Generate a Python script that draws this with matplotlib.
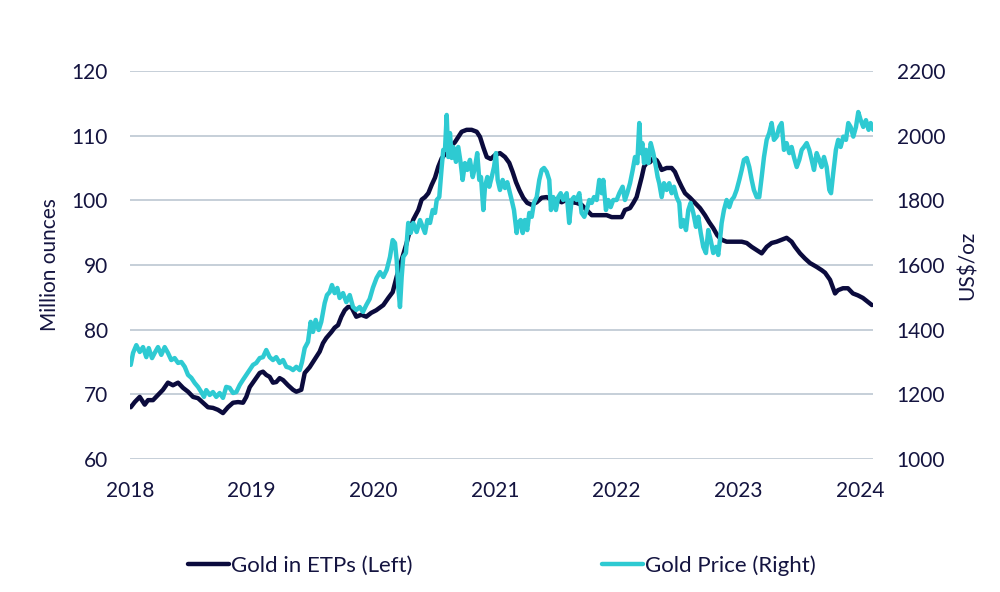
import numpy as np
import matplotlib
matplotlib.use("Agg")
import matplotlib.pyplot as plt

# ---------------- data ----------------
year_ticks = [2018, 2019, 2020, 2021, 2022, 2023, 2024]
left_ticks = [60, 70, 80, 90, 100, 110, 120]
right_ticks = [1000, 1200, 1400, 1600, 1800, 2000, 2200]

# Gold in ETPs (million ounces), x = years after 2018-01-01
etp_t = [0.006, 0.039, 0.080, 0.121, 0.148, 0.189, 0.230, 0.271, 0.312, 0.353, 0.395, 0.436, 0.477,
         0.518, 0.559, 0.600, 0.641, 0.682, 0.723, 0.764, 0.805, 0.847, 0.888, 0.929, 0.956, 0.984,
         1.025, 1.066, 1.093, 1.120, 1.148, 1.175, 1.202, 1.230, 1.258, 1.299, 1.340, 1.367, 1.408,
         1.436, 1.477, 1.504, 1.531, 1.559, 1.586, 1.613, 1.654, 1.682, 1.710, 1.737, 1.765, 1.792,
         1.819, 1.860, 1.901, 1.942, 1.983, 2.024, 2.082, 2.123, 2.159, 2.192, 2.233, 2.274, 2.301,
         2.328, 2.370, 2.397, 2.425, 2.452, 2.480, 2.507, 2.534, 2.562, 2.597, 2.630, 2.671, 2.698,
         2.726, 2.767, 2.808, 2.850, 2.877, 2.904, 2.932, 2.965, 3.000, 3.041, 3.082, 3.117, 3.145,
         3.173, 3.200, 3.232, 3.265, 3.302, 3.343, 3.384, 3.425, 3.466, 3.507, 3.548, 3.589, 3.630,
         3.671, 3.712, 3.754, 3.795, 3.836, 3.877, 3.918, 3.959, 4.000, 4.041, 4.068, 4.110, 4.137,
         4.164, 4.186, 4.206, 4.225, 4.247, 4.274, 4.301, 4.329, 4.350, 4.370, 4.411, 4.452, 4.479,
         4.506, 4.534, 4.562, 4.603, 4.644, 4.685, 4.726, 4.761, 4.794, 4.827, 4.863, 4.904, 4.945,
         4.986, 5.028, 5.069, 5.110, 5.151, 5.192, 5.233, 5.274, 5.315, 5.356, 5.397, 5.438, 5.466,
         5.507, 5.548, 5.589, 5.644, 5.685, 5.713, 5.754, 5.795, 5.819, 5.860, 5.901, 5.942, 5.983,
         6.024, 6.065, 6.098]
etp_val = [68.0, 68.8, 69.6, 68.4, 69.1, 69.1, 69.9, 70.7, 71.8, 71.4, 71.8, 71.0, 70.4,
           69.6, 69.4, 68.7, 68.0, 67.9, 67.6, 67.1, 68.0, 68.7, 68.8, 68.7, 69.6, 71.1,
           72.2, 73.3, 73.5, 73.0, 72.7, 71.8, 71.9, 72.5, 72.2, 71.4, 70.7, 70.4, 70.7,
           73.3, 74.2, 75.0, 75.8, 76.6, 77.9, 78.7, 79.6, 80.3, 80.7, 82.0, 83.0, 83.5,
           83.5, 82.0, 82.3, 82.0, 82.6, 83.0, 83.8, 84.9, 85.8, 88.2, 90.8, 93.4, 95.4,
           97.0, 98.5, 100.1, 100.5, 101.1, 102.4, 103.5, 105.2, 106.5, 107.3, 108.2, 109.0, 109.8,
           110.6, 110.9, 110.9, 110.6, 109.8, 108.2, 106.7, 106.4, 107.0, 107.3, 106.7, 105.8, 104.4,
           102.8, 101.6, 100.4, 99.6, 99.3, 99.7, 100.4, 100.5, 100.1, 100.1, 99.7, 100.1, 99.7,
           99.6, 99.3, 98.5, 97.7, 97.7, 97.7, 97.7, 97.4, 97.4, 97.4, 98.5, 98.8, 99.6,
           100.5, 102.1, 103.6, 105.2, 105.8, 105.9, 106.5, 106.2, 105.5, 104.7, 105.0, 105.0, 104.4,
           103.2, 102.1, 101.1, 100.4, 99.6, 98.8, 97.7, 96.6, 95.7, 94.6, 93.9, 93.6, 93.6,
           93.6, 93.6, 93.4, 92.8, 92.3, 91.8, 92.8, 93.4, 93.6, 93.9, 94.2, 93.6, 92.8,
           91.8, 91.0, 90.3, 89.7, 89.2, 88.8, 87.7, 85.6, 86.1, 86.4, 86.4, 85.6, 85.3,
           84.9, 84.3, 83.8]

# Gold price (US$/oz), x = years after 2018-01-01
price_t = [0.006, 0.025, 0.052, 0.080, 0.107, 0.134, 0.154, 0.181, 0.203, 0.230, 0.257, 0.285, 0.312,
           0.339, 0.367, 0.395, 0.422, 0.450, 0.477, 0.504, 0.532, 0.559, 0.586, 0.608, 0.627, 0.655,
           0.682, 0.709, 0.737, 0.764, 0.791, 0.819, 0.847, 0.874, 0.902, 0.929, 0.956, 0.984, 1.011,
           1.038, 1.066, 1.093, 1.120, 1.148, 1.175, 1.202, 1.230, 1.258, 1.285, 1.313, 1.340, 1.367,
           1.395, 1.414, 1.436, 1.463, 1.485, 1.504, 1.526, 1.551, 1.572, 1.600, 1.619, 1.641, 1.660,
           1.682, 1.704, 1.723, 1.751, 1.778, 1.806, 1.833, 1.860, 1.888, 1.915, 1.942, 1.970, 1.997,
           2.027, 2.055, 2.082, 2.110, 2.137, 2.159, 2.178, 2.192, 2.205, 2.219, 2.233, 2.246, 2.268,
           2.287, 2.307, 2.328, 2.356, 2.384, 2.406, 2.425, 2.444, 2.466, 2.488, 2.507, 2.521, 2.542,
           2.562, 2.575, 2.589, 2.603, 2.616, 2.630, 2.644, 2.657, 2.679, 2.698, 2.718, 2.734, 2.753,
           2.772, 2.794, 2.817, 2.836, 2.854, 2.871, 2.885, 2.904, 2.918, 2.937, 2.953, 2.973, 2.992,
           3.008, 3.022, 3.041, 3.063, 3.082, 3.101, 3.117, 3.137, 3.156, 3.178, 3.191, 3.211, 3.228,
           3.246, 3.265, 3.282, 3.302, 3.320, 3.343, 3.364, 3.384, 3.403, 3.425, 3.446, 3.460, 3.479,
           3.501, 3.520, 3.540, 3.561, 3.589, 3.610, 3.630, 3.649, 3.671, 3.693, 3.712, 3.734, 3.754,
           3.775, 3.795, 3.814, 3.836, 3.857, 3.877, 3.890, 3.912, 3.931, 3.951, 3.972, 4.000, 4.022,
           4.049, 4.068, 4.087, 4.110, 4.132, 4.151, 4.170, 4.186, 4.198, 4.211, 4.225, 4.241, 4.260,
           4.280, 4.301, 4.323, 4.337, 4.350, 4.370, 4.389, 4.411, 4.432, 4.452, 4.471, 4.493, 4.515,
           4.529, 4.548, 4.570, 4.589, 4.608, 4.630, 4.652, 4.671, 4.691, 4.712, 4.734, 4.753, 4.773,
           4.794, 4.817, 4.835, 4.849, 4.863, 4.882, 4.904, 4.926, 4.945, 4.964, 4.986, 5.008, 5.028,
           5.046, 5.069, 5.090, 5.110, 5.128, 5.151, 5.172, 5.192, 5.211, 5.233, 5.254, 5.274, 5.293,
           5.315, 5.337, 5.356, 5.375, 5.397, 5.419, 5.438, 5.457, 5.480, 5.501, 5.521, 5.540, 5.562,
           5.583, 5.603, 5.622, 5.644, 5.665, 5.685, 5.704, 5.726, 5.748, 5.762, 5.780, 5.802, 5.821,
           5.841, 5.863, 5.885, 5.904, 5.923, 5.945, 5.967, 5.986, 6.006, 6.027, 6.049, 6.071, 6.088,
           6.109]
price_val = [1291, 1328, 1352, 1331, 1346, 1315, 1343, 1312, 1328, 1346, 1322, 1346, 1328,
             1306, 1312, 1297, 1300, 1285, 1260, 1251, 1235, 1223, 1207, 1192, 1213, 1198,
             1207, 1192, 1204, 1189, 1223, 1220, 1204, 1207, 1229, 1245, 1260, 1275, 1291,
             1297, 1312, 1315, 1337, 1315, 1306, 1315, 1297, 1306, 1285, 1282, 1275, 1285,
             1275, 1300, 1343, 1362, 1424, 1393, 1430, 1399, 1424, 1482, 1507, 1516, 1538,
             1513, 1529, 1498, 1513, 1485, 1507, 1470, 1461, 1470, 1455, 1476, 1495, 1530,
             1560, 1578, 1563, 1585, 1625, 1677, 1668, 1615, 1532, 1470, 1563, 1625, 1637,
             1730, 1699, 1730, 1702, 1739, 1718, 1699, 1739, 1730, 1770, 1761, 1801, 1810,
             1903, 1956, 1956, 2064, 1934, 2008, 1931, 1965, 1919, 1965, 1915, 1863, 1915,
             1894, 1925, 1872, 1903, 1946, 1863, 1872, 1770, 1842, 1872, 1842, 1872, 1903,
             1946, 1863, 1832, 1863, 1838, 1856, 1832, 1801, 1770, 1699, 1730, 1739, 1699,
             1739, 1708, 1761, 1749, 1792, 1810, 1863, 1894, 1900, 1888, 1863, 1770, 1810,
             1770, 1810, 1822, 1801, 1822, 1730, 1801, 1810, 1801, 1822, 1761, 1749, 1770,
             1801, 1792, 1810, 1801, 1863, 1822, 1863, 1770, 1801, 1779, 1801, 1801, 1822,
             1842, 1801, 1822, 1853, 1894, 1934, 1915, 2039, 1946, 1977, 1915, 1956, 1915,
             1977, 1946, 1903, 1872, 1853, 1810, 1853, 1832, 1853, 1822, 1842, 1810, 1792,
             1718, 1739, 1708, 1770, 1792, 1761, 1718, 1749, 1699, 1656, 1637, 1708, 1677,
             1637, 1656, 1631, 1677, 1730, 1770, 1801, 1779, 1801, 1810, 1832, 1863, 1894,
             1925, 1931, 1903, 1863, 1832, 1810, 1810, 1872, 1934, 1987, 2008, 2039, 1987,
             1997, 2027, 2039, 1956, 1977, 1946, 1965, 1934, 1903, 1925, 1956, 1965, 1977,
             1956, 1925, 1894, 1946, 1925, 1903, 1934, 1903, 1832, 1822, 1884, 1956, 1987,
             1965, 1997, 1987, 2039, 2027, 1997, 2027, 2073, 2048, 2027, 2048, 2018, 2039,
             2018]

# ---------------- style ----------------
NAVY = "#0b0b3d"
CYAN = "#2ecad2"
TEXT = "#141440"
GRID = "#c2cbd6"

plt.rcParams["font.family"] = ["Lato", "DejaVu Sans"]
plt.rcParams["font.size"] = 15

fig = plt.figure(figsize=(10, 5.92), dpi=100)
ax = fig.add_axes([0.130, 0.2247, 0.743, 0.6554])
ax2 = ax.twinx()

base = 2018
l1, = ax.plot(base + np.array(etp_t), etp_val, color=NAVY, lw=3.2, solid_capstyle="round",
              label="Gold in ETPs (Left)", zorder=3)
l2, = ax2.plot(base + np.array(price_t), price_val, color=CYAN, lw=3.2, solid_capstyle="round",
               label="Gold Price (Right)", zorder=3)

ax.set_xlim(2018, 2024.107)
ax.set_ylim(60, 120)
ax2.set_ylim(1000, 2200)
ax.set_yticks(left_ticks)
ax2.set_yticks(right_ticks)
ax.set_xticks(year_ticks)
ax.set_xticklabels([str(y) for y in year_ticks])

ax.grid(axis="y", color=GRID, lw=1.3)
ax.set_axisbelow(True)
for a in (ax, ax2):
    for s in a.spines.values():
        s.set_visible(False)
ax.tick_params(axis="both", length=0, colors=TEXT, labelsize=15)
ax.tick_params(axis="y", pad=16)
ax.tick_params(axis="x", pad=16)
ax2.tick_params(axis="y", length=0, colors=TEXT, labelsize=15, pad=17)

ax.set_ylabel("Million ounces", color=TEXT, fontsize=15)
ax.yaxis.set_label_coords(-0.094, 0.5)
ax2.set_ylabel("US$/oz", color=TEXT, fontsize=15, rotation=90)
ax2.yaxis.set_label_coords(1.114, 0.5)

fig.legend(handles=[l1, l2], loc="center", bbox_to_anchor=(0.502, 0.044), ncol=2,
           frameon=False, handlelength=1.85, handletextpad=0.1, columnspacing=8.5,
           fontsize=16, labelcolor=TEXT)

fig.savefig("out.png", dpi=100, facecolor="white")
